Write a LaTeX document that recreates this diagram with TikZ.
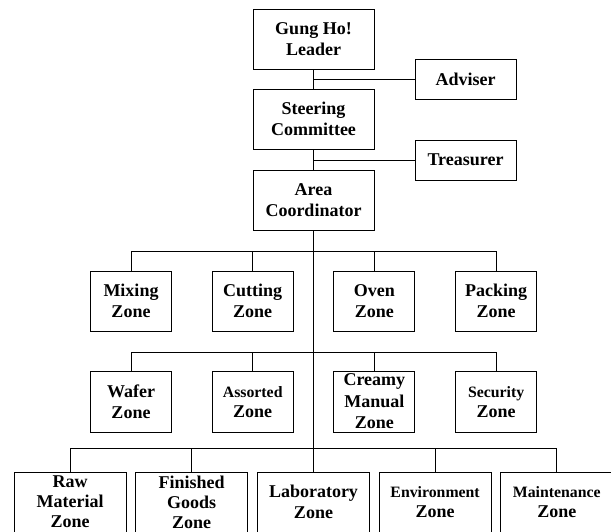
\documentclass[tikz,border=0pt]{standalone}
\usepackage{fontspec}
\setmainfont{Liberation Serif}
\usepackage{tikz}
\tikzset{
  orgbox/.style={draw=black, line width=0.9pt, fill=white, align=center, inner sep=0pt,
    font=\bfseries\fontsize{18}{21.5}\selectfont},
  bigbox/.style={orgbox, minimum width=121pt, minimum height=60pt},
  sidebox/.style={orgbox, minimum width=101pt, minimum height=40pt},
  zonebox/.style={orgbox, minimum width=81pt, minimum height=60pt},
  lowbox/.style={orgbox, minimum width=112pt, minimum height=60pt},
  smalltext/.style={font=\bfseries\fontsize{15.8}{19}\selectfont},
  tighttext/.style={font=\bfseries\fontsize{18}{20}\selectfont},
  orgline/.style={line width=0.9pt, draw=black},
}

\begin{document}
\begin{tikzpicture}[x=1pt, y=-1pt]
\clip (0,0) rectangle (611,531);
\node[bigbox] (lead) at (313.5,39) {Gung Ho!\\Leader};
\node[sidebox] (adv) at (465.5,79) {Adviser};
\node[bigbox] (steer) at (313.5,119) {Steering\\Committee};
\node[sidebox] (treas) at (465.5,160) {Treasurer};
\node[bigbox] (area) at (313.5,200) {Area\\Coordinator};
\node[zonebox] (mix) at (131,301) {Mixing\\Zone};
\node[zonebox] (cut) at (252.7,301) {Cutting\\Zone};
\node[zonebox] (oven) at (374.4,301) {Oven\\Zone};
\node[zonebox] (pack) at (496.1,301) {Packing\\Zone};
\node[zonebox, minimum height=61pt] (wafer) at (131,401.6) {Wafer\\Zone};
\node[zonebox, minimum height=61pt, smalltext] (assort) at (252.7,401.6) {Assorted\\[1pt]\fontsize{18}{21.5}\selectfont Zone};
\node[zonebox, minimum height=61pt] (creamy) at (374.4,401.6) {Creamy\\Manual\\Zone};
\node[zonebox, minimum height=61pt, smalltext] (secur) at (496.1,401.6) {Security\\[1pt]\fontsize{18}{21.5}\selectfont Zone};
\node[lowbox, tighttext] (raw) at (70.2,502) {Raw\\Material\\Zone};
\node[lowbox, tighttext] (fin) at (191.6,502) {Finished\\Goods\\Zone};
\node[lowbox] (lab) at (313.5,502) {Laboratory\\Zone};
\node[lowbox, smalltext] (env) at (435.1,502) {Environment\\[1pt]\fontsize{18}{21.5}\selectfont Zone};
\node[lowbox, smalltext] (maint) at (556.8,502) {Maintenance\\[1pt]\fontsize{18}{21.5}\selectfont Zone};
% levels of the bus lines
\coordinate (busa) at (313.5,251.7);
\coordinate (busb) at (313.5,352.3);
\coordinate (busc) at (313.5,448.7);
% top of the chart
\draw[orgline] (lead) -- (steer);
\draw[orgline] (adv.west) -- (adv.west -| lead.south);
\draw[orgline] (steer) -- (area);
\draw[orgline] (treas.west) -- (treas.west -| steer.south);
\draw[orgline] (area) -- (lab);
% first row
\draw[orgline] (mix.north) -- (mix.north |- busa) -- (pack.north |- busa) -- (pack.north);
\draw[orgline] (cut.north) -- (cut.north |- busa);
\draw[orgline] (oven.north) -- (oven.north |- busa);
% second row
\draw[orgline] (wafer.north) -- (wafer.north |- busb) -- (secur.north |- busb) -- (secur.north);
\draw[orgline] (assort.north) -- (assort.north |- busb);
\draw[orgline] (creamy.north) -- (creamy.north |- busb);
% third row
\draw[orgline] (raw.north) -- (raw.north |- busc) -- (maint.north |- busc) -- (maint.north);
\draw[orgline] (fin.north) -- (fin.north |- busc);
\draw[orgline] (env.north) -- (env.north |- busc);
\end{tikzpicture}
\end{document}
